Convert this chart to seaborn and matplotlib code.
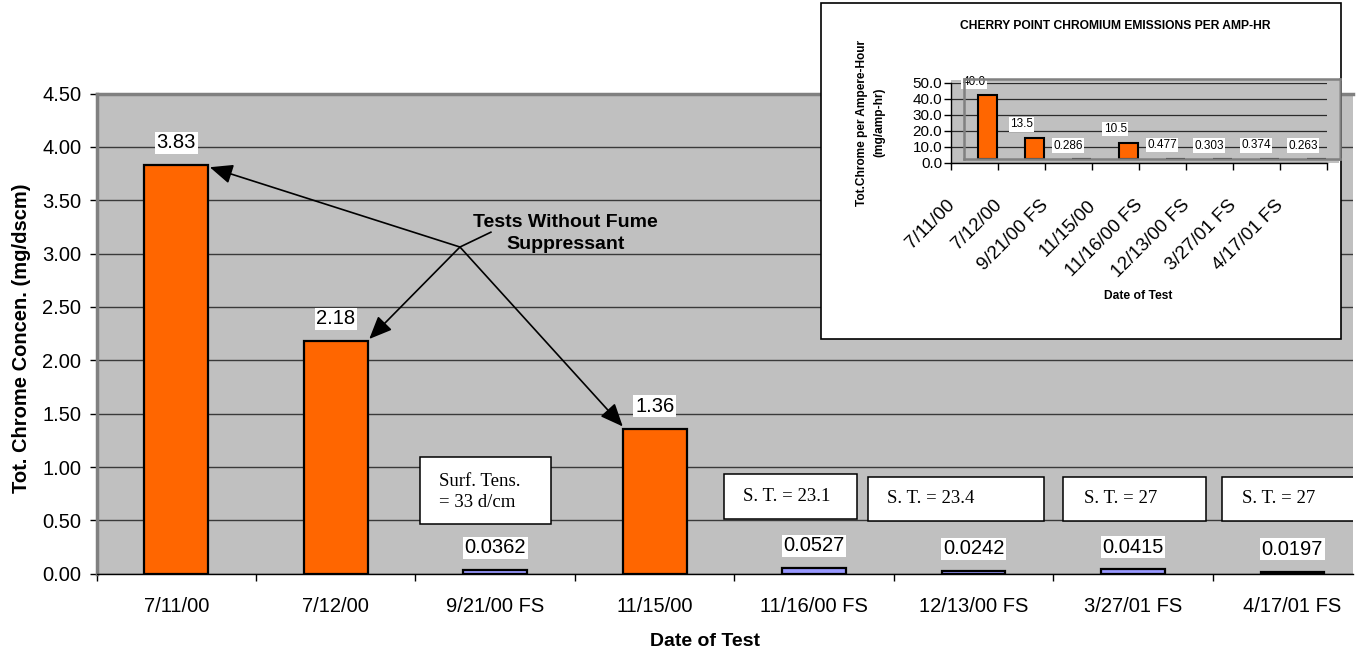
import matplotlib
matplotlib.use('Agg')
import matplotlib.pyplot as plt
import matplotlib.transforms as mtransforms
from matplotlib.patches import Rectangle
import seaborn as sns
import pandas as pd

# ---------- data ---------- #
dates = ['7/11/00', '7/12/00', '9/21/00 FS', '11/15/00', '11/16/00 FS',
         '12/13/00 FS', '3/27/01 FS', '4/17/01 FS']
conc = [3.83, 2.18, 0.0362, 1.36, 0.0527, 0.0242, 0.0415, 0.0197]
conc_labels = ['3.83', '2.18', '0.0362', '1.36', '0.0527', '0.0242', '0.0415', '0.0197']
amp_hr = [40.0, 13.5, 0.286, 10.5, 0.477, 0.303, 0.374, 0.263]
amp_labels = ['40.0', '13.5', '0.286', '10.5', '0.477', '0.303', '0.374', '0.263']
st_texts = ['Surf. Tens.\n= 33 d/cm', 'S. T. = 23.1', 'S. T. = 23.4', 'S. T. = 27', 'S. T. = 27']
main_yticks = [0, 0.5, 1.0, 1.5, 2.0, 2.5, 3.0, 3.5, 4.0, 4.5]
inset_yticks = [0, 10, 20, 30, 40, 50]

# box layout (x0, x1, y0, y1, text x, text y) in data units of the main chart
st_boxes = [(1.528, 2.350, 0.466, 1.097, 1.647, 0.766),
            (3.435, 4.269, 0.513, 0.934, 3.553, 0.724),
            (4.338, 5.442, 0.494, 0.911, 4.457, 0.703),
            (5.561, 6.456, 0.494, 0.911, 5.692, 0.703),
            (6.556, 7.450, 0.494, 0.911, 6.682, 0.703)]

plt.rcParams['font.family'] = ['Liberation Sans', 'DejaVu Sans']

ORANGE = '#FF6600'
BLUE = '#9999FF'
GRAY = '#C0C0C0'
palette = {d: (BLUE if 'FS' in d else ORANGE) for d in dates}

W, H = 1366, 656
fig = plt.figure(figsize=(W / 100, H / 100), dpi=100)

# ---------- main chart ---------- #
ax = fig.add_axes([96.6 / W, 1 - 573.7 / H, (1353 - 96.6) / W, (573.7 - 93.6) / H])
df = pd.DataFrame({'date': dates, 'conc': conc})
sns.barplot(data=df, x='date', y='conc', hue='date', palette=palette, legend=False,
            width=0.4, edgecolor='black', linewidth=1.6, saturation=1, ax=ax, zorder=3)
ax.set_facecolor(GRAY)
ax.set_xlim(-0.5, 7.38)
ax.set_ylim(0, 4.5)
ax.set_yticks(main_yticks)
ax.set_yticklabels([f'{t:.2f}' for t in main_yticks])
ax.yaxis.grid(True, color='#3a3a3a', lw=1)
ax.set_axisbelow(True)
ax.set_xticks(range(len(dates)))
ax.set_xticklabels(dates)
ax.set_xticks([k - 0.5 for k in range(len(dates))], minor=True)
ax.tick_params(axis='x', which='major', length=0, pad=17, labelsize=14.5)
ax.tick_params(axis='x', which='minor', length=5, width=1, color='black')
ax.tick_params(axis='y', length=5, width=1, color='black', pad=6, labelsize=14.5)
ax.spines['right'].set_visible(False)
ax.spines['top'].set_color('#808080')
ax.spines['top'].set_linewidth(2.5)
ax.spines['left'].set_color('#808080')
ax.spines['left'].set_linewidth(2.5)
ax.spines['bottom'].set_color('black')
ax.spines['bottom'].set_linewidth(1)
ax.set_xlabel('Date of Test', fontsize=14, fontweight='bold')
ax.xaxis.set_label_coords(0.4845, -0.124)
ax.set_ylabel('Tot. Chrome Concen. (mg/dscm)', fontsize=14.5, fontweight='bold')
ax.yaxis.set_label_coords(-0.052, 0.49)

for i, (v, lab) in enumerate(zip(conc, conc_labels)):
    ax.annotate(lab, (i, v), xytext=(0, 16), textcoords='offset points',
                ha='center', va='center', fontsize=14.5, zorder=6,
                bbox=dict(boxstyle='square,pad=0.08', fc='white', ec='none'))

for txt, (x0, x1, y0, y1, tx, ty) in zip(st_texts, st_boxes):
    ax.add_patch(Rectangle((x0, y0), x1 - x0, y1 - y0, fc='white', ec='black',
                           lw=1.1, zorder=5))
    ax.text(tx, ty, txt, ha='left', va='center', fontsize=13.5,
            family=['Liberation Serif', 'DejaVu Serif'], linespacing=1.35, zorder=6)

# arrows for tests without fume suppressant
hub = (1.779, 3.062)
ax.plot([hub[0], 1.973], [hub[1], 3.201], color='black', lw=1.2, zorder=6)
for tip in [(0.21, 3.81), (1.21, 2.20), (2.80, 1.38)]:
    ax.annotate('', xy=tip, xytext=hub, zorder=6,
                arrowprops=dict(arrowstyle='-|>,head_length=0.7,head_width=0.3',
                                color='black', lw=1.2, shrinkA=0, shrinkB=0,
                                mutation_scale=20))
ax.text(2.443, 3.188, 'Tests Without Fume\nSuppressant', ha='center', va='center',
        fontsize=14, fontweight='bold', linespacing=1.4, zorder=6)

# ---------- inset chart ---------- #
fig.add_artist(Rectangle((821 / W, 1 - 339 / H), (1341 - 821) / W, (339 - 3) / H,
                         transform=fig.transFigure, fc='white', ec='black', lw=1.2, zorder=2))
fig.add_artist(Rectangle((950.7 / W, 1 - 162.7 / H), (1339 - 950.7) / W, (162.7 - 80) / H,
                         transform=fig.transFigure, fc=GRAY, ec='none', zorder=2.5))

axi = fig.add_axes([950.7 / W, 1 - 162.7 / H, 376 / W, 80 / H], zorder=3)
axi.set_facecolor('none')
axi.set_xlim(-0.5, 7.5)
axi.set_ylim(0, 50)
axi.set_yticks(inset_yticks)
axi.set_yticklabels([f'{t:.1f}' for t in inset_yticks])
axi.yaxis.grid(True, color='#2a2a2a', lw=0.9)
axi.set_axisbelow(True)
axi.set_xticks(range(len(dates)))
axi.set_xticklabels(dates, rotation=45, rotation_mode='anchor', ha='right', va='center')
axi.set_xticks([k - 0.5 for k in range(len(dates) + 1)], minor=True)
axi.tick_params(axis='x', which='major', length=0, pad=0, labelsize=13.5)
axi.tick_params(axis='x', which='minor', length=5, width=1, color='black')
axi.tick_params(axis='y', length=5, width=1, color='black', pad=1, labelsize=11)
for s in ['top', 'right']:
    axi.spines[s].set_visible(False)
for s in ['left', 'bottom']:
    axi.spines[s].set_color('black')
    axi.spines[s].set_linewidth(1)
offset = mtransforms.ScaledTranslation(-0.22, -0.40, fig.dpi_scale_trans)
for lab in axi.get_xticklabels():
    lab.set_transform(lab.get_transform() + offset)
axi.set_ylabel('Tot.Chrome per Ampere-Hour\n(mg/amp-hr)', fontsize=8.6,
               fontweight='bold', linespacing=1.5)
axi.yaxis.set_label_coords(-0.175, 0.5)

for i, (v, lab) in enumerate(zip(amp_hr, amp_labels)):
    axi.annotate(lab, (i, v), xytext=(0, 12), textcoords='offset points',
                 ha='center', va='center', fontsize=8.5, zorder=6,
                 bbox=dict(boxstyle='square,pad=0.1', fc='white', ec='none'))

# bars are drawn slightly shifted, as in the original export
axb = fig.add_axes([964 / W, 1 - 159.3 / H, 376 / W, 80 / H], zorder=4)
dfi = pd.DataFrame({'date': dates, 'amp': amp_hr})
sns.barplot(data=dfi, x='date', y='amp', hue='date', palette=palette, legend=False,
            width=0.4, edgecolor='black', linewidth=1.5, saturation=1, ax=axb)
axb.set_facecolor('none')
axb.set_xlim(-0.5, 7.5)
axb.set_ylim(0, 50)
axb.set_xticks([])
axb.set_yticks([])
axb.set_xlabel('')
axb.set_ylabel('')
for s in axb.spines.values():
    s.set_color('#808080')
    s.set_linewidth(1.8)

fig.text(1115 / W, 1 - 26 / H, 'CHERRY POINT CHROMIUM EMISSIONS PER AMP-HR',
         ha='center', va='center', fontsize=8.7, fontweight='bold')
fig.text(1138 / W, 1 - 296 / H, 'Date of Test', ha='center', va='center',
         fontsize=8.7, fontweight='bold')

fig.savefig('out.png', dpi=100)
